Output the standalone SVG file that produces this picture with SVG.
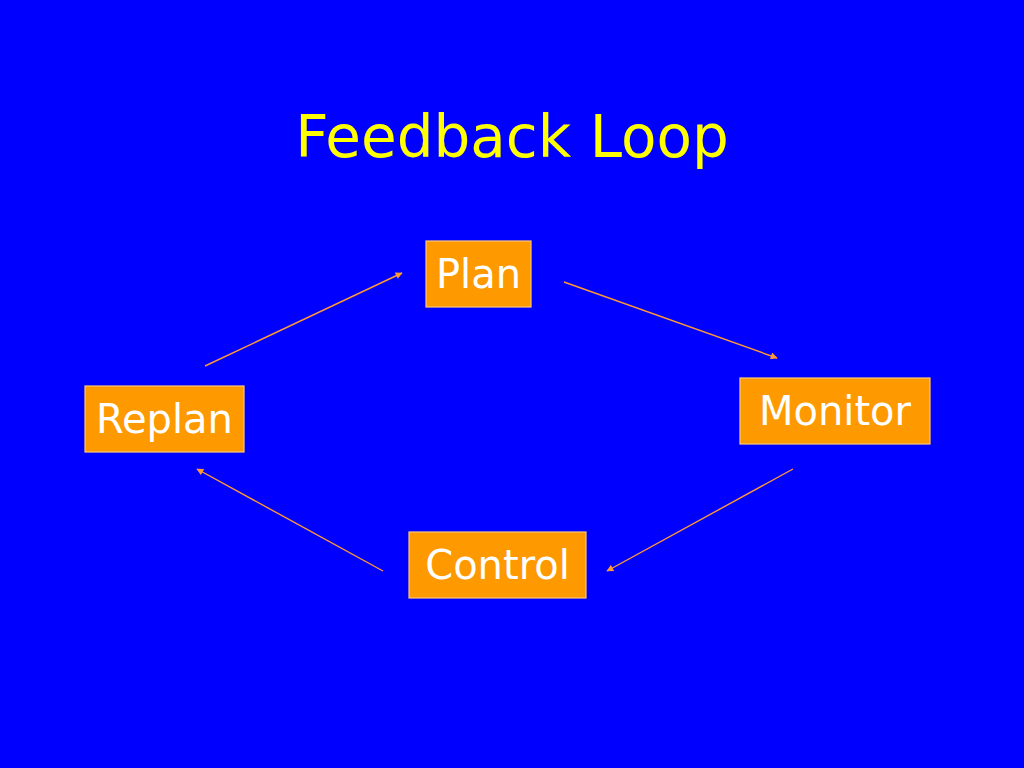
<svg xmlns="http://www.w3.org/2000/svg" width="1024" height="768" viewBox="0 0 1024 768">
<defs>
<style>
.bg{fill:#0000FF}
.title{font-family:"DejaVu Sans","Noto Sans",sans-serif;font-size:58px;fill:#FFFF00;text-anchor:middle}
.box{fill:#FF9900;stroke:#FFC870;stroke-width:1.2}
.lbl{font-family:"DejaVu Sans","Noto Sans",sans-serif;font-size:40px;fill:#FFFFFF;text-anchor:middle}
.conn{stroke:#FF9933;stroke-width:1.4;fill:none;marker-end:url(#ah)}
</style>
<marker id="ah" viewBox="0 0 10 10" refX="9" refY="5" markerWidth="9" markerHeight="7" markerUnits="userSpaceOnUse" orient="auto">
<path d="M0,0 L10,5 L0,10 z" fill="#FF9933"/>
</marker>
</defs>
<rect class="bg" x="0" y="0" width="1024" height="768"/>
<text class="title" x="512" y="157">Feedback Loop</text>
<g id="connectors">
<line class="conn" x1="205" y1="366" x2="402" y2="273"/>
<line class="conn" x1="564" y1="282" x2="777" y2="358"/>
<line class="conn" x1="793" y1="469" x2="607" y2="571"/>
<line class="conn" x1="383" y1="571" x2="197" y2="469"/>
</g>
<g id="plan">
<rect class="box" x="426" y="241" width="105" height="66"/>
<text class="lbl" x="478.5" y="288">Plan</text>
</g>
<g id="replan">
<rect class="box" x="85" y="386" width="159" height="66"/>
<text class="lbl" x="164.5" y="433">Replan</text>
</g>
<g id="monitor">
<rect class="box" x="740" y="378" width="190" height="66"/>
<text class="lbl" x="835" y="425">Monitor</text>
</g>
<g id="control">
<rect class="box" x="409" y="532" width="177" height="66"/>
<text class="lbl" x="497.5" y="579">Control</text>
</g>
</svg>
